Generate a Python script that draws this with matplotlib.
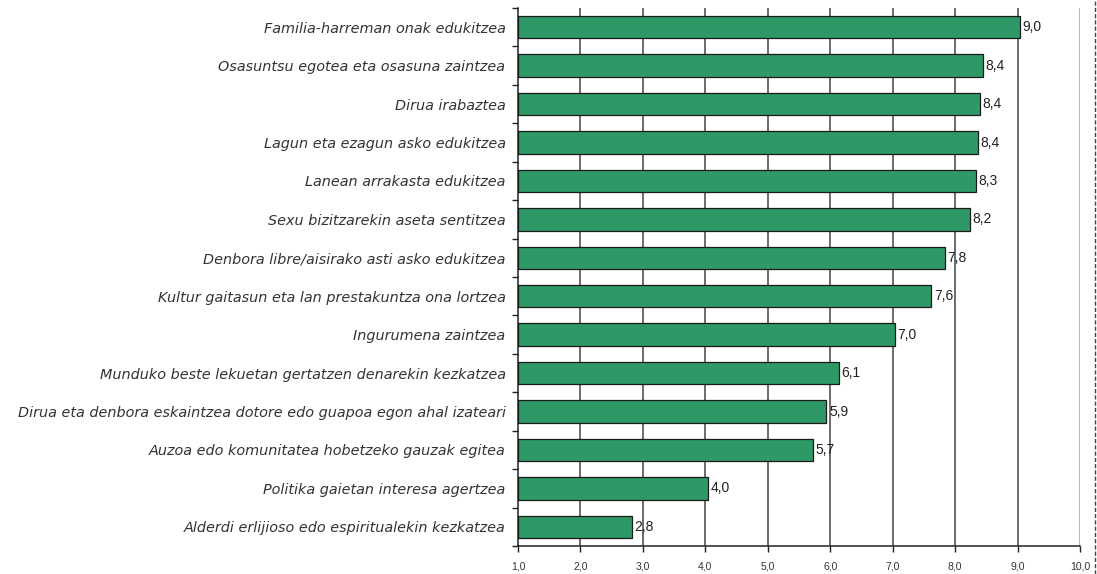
import numpy as np
import matplotlib.pyplot as plt
from matplotlib.lines import Line2D

# Datuak (goitik behera)
kategoriak = [
    "Familia-harreman onak edukitzea",
    "Osasuntsu egotea eta osasuna zaintzea",
    "Dirua irabaztea",
    "Lagun eta ezagun asko edukitzea",
    "Lanean arrakasta edukitzea",
    "Sexu bizitzarekin aseta sentitzea",
    "Denbora libre/aisirako asti asko edukitzea",
    "Kultur gaitasun eta lan prestakuntza ona lortzea",
    "Ingurumena zaintzea",
    "Munduko beste lekuetan gertatzen denarekin kezkatzea",
    "Dirua eta denbora eskaintzea dotore edo guapoa egon ahal izateari",
    "Auzoa edo komunitatea hobetzeko gauzak egitea",
    "Politika gaietan interesa agertzea",
    "Alderdi erlijioso edo espiritualekin kezkatzea",
]
balioak = [9.04, 8.44, 8.40, 8.37, 8.33, 8.24, 7.84, 7.62, 7.04, 6.14, 5.94, 5.72, 4.04, 2.82]
x_tickak = [1, 2, 3, 4, 5, 6, 7, 8, 9, 10]

fig = plt.figure(figsize=(10.97, 5.74), dpi=100)
ax = fig.add_axes([518 / 1097, 1 - 546 / 574, (1080 - 518) / 1097, (546 - 8) / 574])

y = np.arange(len(kategoriak))
x0 = 1.0
ax.barh(y, np.array(balioak) - x0, left=x0, height=0.58,
        color="#2e9966", edgecolor="#1a1a1a", linewidth=0.9, zorder=3)

for yi, v in zip(y, balioak):
    ax.text(v + 0.04, yi, f"{v:.1f}".replace(".", ","), va="center", ha="left",
            fontsize=10, color="#222222", family="Liberation Sans", zorder=4)

ax.set_xlim(1, 10)
ax.set_ylim(len(kategoriak) - 0.5, -0.5)

# bertikal sareta
for t in x_tickak[1:-1]:
    ax.axvline(t, color="#444444", linewidth=1.1, zorder=1)
ax.axvline(10, color="#aaaaaa", linewidth=1.2, zorder=1)

ax.set_xticks(x_tickak)
ax.set_xticklabels([f"{t:.1f}".replace(".", ",") for t in x_tickak],
                   fontsize=7.5, color="#333333", family="Liberation Sans")
ax.tick_params(axis="x", length=4, width=1, color="#222222", pad=7)

# kategoria etiketak
ax.set_yticks(y)
ax.set_yticklabels(kategoriak, fontsize=10.4, style="italic", color="#333333")
ax.tick_params(axis="y", length=0, pad=9)
ax.set_yticks(np.arange(-0.5, len(kategoriak), 1), minor=True)
ax.tick_params(axis="y", which="minor", length=4, width=1, color="#222222")

for s in ["top", "right"]:
    ax.spines[s].set_visible(False)
ax.spines["left"].set_color("#222222")
ax.spines["bottom"].set_color("#222222")
ax.spines["left"].set_linewidth(1.1)
ax.spines["bottom"].set_linewidth(1.1)

# eskuineko marra etena
fig.add_artist(Line2D([1094.5 / 1097, 1094.5 / 1097], [0, 1], transform=fig.transFigure,
                      color="#444444", linewidth=1.0, linestyle=(0, (3, 1.5))))

fig.savefig("out.png", dpi=100)
